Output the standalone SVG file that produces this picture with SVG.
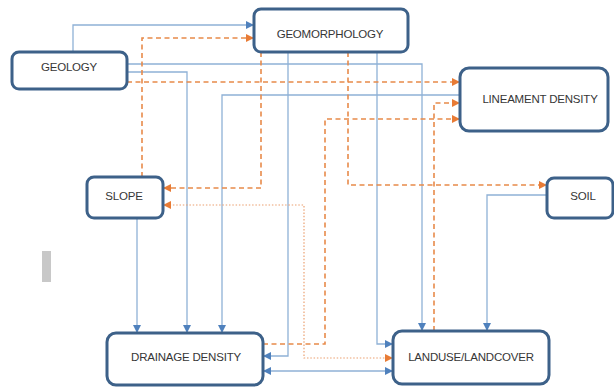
<svg xmlns="http://www.w3.org/2000/svg" width="614" height="387" viewBox="0 0 614 387">
<defs>
<style>
.box{fill:#fff;stroke:#3d6189;stroke-width:3}
.lbl{font-family:"Liberation Sans",Arial,sans-serif;font-size:11.5px;fill:#363636;text-anchor:middle;dominant-baseline:central;letter-spacing:-0.2px}
.bl{fill:none;stroke:#8fb1d6;stroke-width:1.3}
.od{fill:none;stroke:#e88a4a;stroke-width:1.6;stroke-dasharray:5,3.5}
.dt{fill:none;stroke:#eba070;stroke-width:1.2;stroke-dasharray:1.5,1.8}
</style>
<marker id="ab" viewBox="0 0 10 10" refX="10" refY="5" markerWidth="8" markerHeight="8" markerUnits="userSpaceOnUse" orient="auto-start-reverse"><path d="M0,0 L10,5 L0,10 z" fill="#4f81bd"/></marker>
<marker id="ao" viewBox="0 0 10 10" refX="10" refY="5" markerWidth="8" markerHeight="8" markerUnits="userSpaceOnUse" orient="auto-start-reverse"><path d="M0,0 L10,5 L0,10 z" fill="#e87b35"/></marker>
</defs>
<rect x="0" y="0" width="614" height="387" fill="#fff"/>
<rect x="42" y="251" width="9" height="31" fill="#c8c8c8"/>
<g id="connectors">
<path class="bl" d="M73,52 V25 H254" marker-end="url(#ab)"/>
<path class="bl" d="M127,64 H422 V331" marker-end="url(#ab)"/>
<path class="bl" d="M127,72 H187 V333" marker-end="url(#ab)"/>
<path class="bl" d="M460,95 H222 V333" marker-end="url(#ab)"/>
<path class="bl" d="M288,52 V356 H263" marker-end="url(#ab)"/>
<path class="bl" d="M377,52 V344 H393" marker-end="url(#ab)"/>
<path class="bl" d="M547,195 H487 V331" marker-end="url(#ab)"/>
<path class="bl" d="M137,218 V333" marker-end="url(#ab)"/>
<path class="bl" d="M263,371 H393" marker-start="url(#ab)" marker-end="url(#ab)"/>
<path class="od" d="M142,177 V38 H254" marker-end="url(#ao)"/>
<path class="od" d="M261,52 V188 H163" marker-end="url(#ao)"/>
<path class="od" d="M127,82 H460" marker-end="url(#ao)"/>
<path class="od" d="M348,52 V185 H547" marker-end="url(#ao)"/>
<path class="od" d="M263,344 H325 V119 H460" marker-end="url(#ao)"/>
<path class="od" d="M434,331 V103 H460" marker-end="url(#ao)"/>
<path class="dt" d="M163,205 H304 V358 H393" marker-start="url(#ao)" marker-end="url(#ao)"/>
</g>
<g id="geology"><rect class="box" x="12" y="52" width="115" height="37" rx="7"/><text class="lbl" x="69" y="67">GEOLOGY</text></g>
<g id="geomorphology"><rect class="box" x="254" y="9" width="154" height="43" rx="7"/><text class="lbl" x="330" y="34">GEOMORPHOLOGY</text></g>
<g id="lineament"><rect class="box" x="460" y="68" width="148" height="63" rx="9"/><text class="lbl" x="540" y="99">LINEAMENT DENSITY</text></g>
<g id="slope"><rect class="box" x="87" y="177" width="76" height="41" rx="7"/><text class="lbl" x="124" y="196">SLOPE</text></g>
<g id="soil"><rect class="box" x="547" y="178" width="66" height="40" rx="7"/><text class="lbl" x="583" y="196">SOIL</text></g>
<g id="drainage"><rect class="box" x="107" y="333" width="156" height="52" rx="9"/><text class="lbl" x="186" y="357">DRAINAGE DENSITY</text></g>
<g id="landuse"><rect class="box" x="393" y="331" width="156" height="53" rx="9"/><text class="lbl" x="471" y="357">LANDUSE/LANDCOVER</text></g>
</svg>
